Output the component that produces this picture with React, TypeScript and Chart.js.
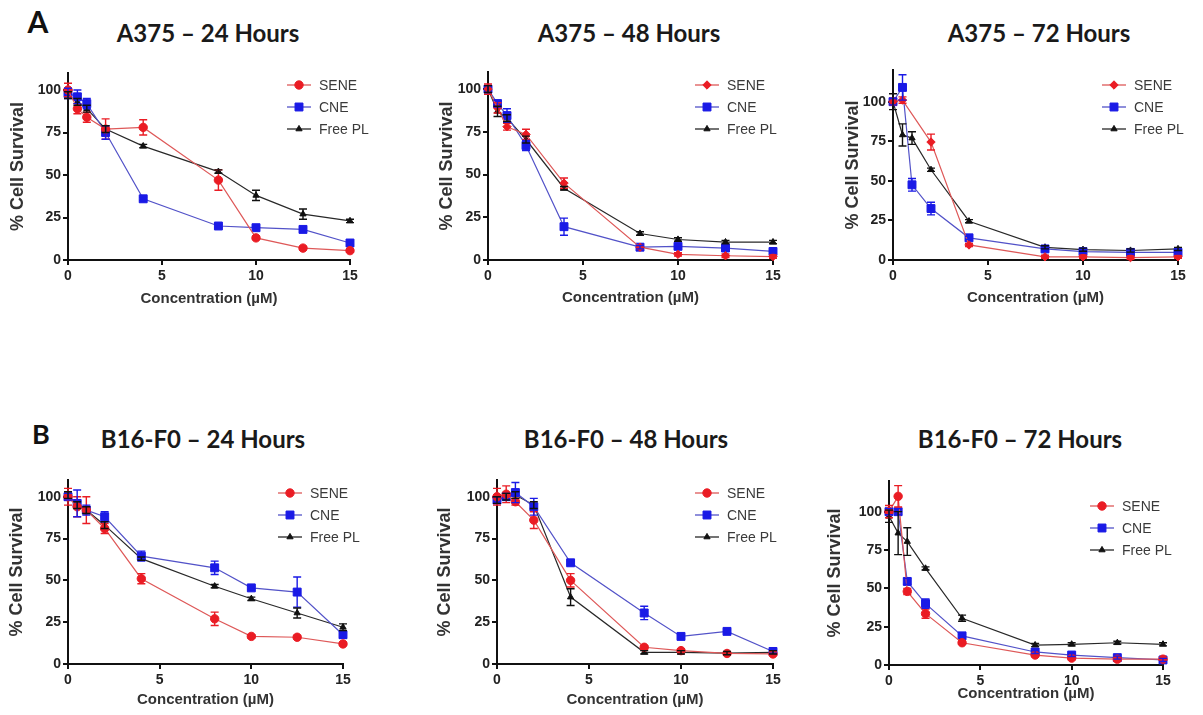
import React, { useEffect, useRef } from 'react';
import { Chart, registerables } from 'chart.js';

Chart.register(...registerables);

// ---------- data ----------
const CONC = [0, 0.5, 1, 2, 4, 8, 10, 12.5, 15];
const X_TICKS = [0, 5, 10, 15];
const Y_TICKS = [0, 25, 50, 75, 100];
const SERIES_NAMES = ['SENE', 'CNE', 'Free PL'];

// A375 – 24 Hours
const A24_SENE = [100, 89, 84, 77, 78, 47, 13, 7, 5.5];
const A24_SENE_ERR = [4, 3, 3, 6, 4.5, 6, 1, 1, 1];
const A24_CNE = [98, 96, 92, 75, 36, 20, 19, 18, 10];
const A24_CNE_ERR = [3, 4, 3, 4, 1, 1, 1, 1, 1];
const A24_FREE = [97, 93, 89, 77, 67, 52, 38, 27, 23];
const A24_FREE_ERR = [2, 2, 2, 2, 1, 1, 3, 3, 1];

// A375 – 48 Hours
const A48_SENE = [100, 89, 78, 73.5, 45, 7.5, 3.3, 2.5, 2];
const A48_SENE_ERR = [3, 3, 2, 3, 3, 1, 1, 1, 1];
const A48_CNE = [100, 91.5, 84.5, 67, 19.5, 7.5, 8, 7, 5];
const A48_CNE_ERR = [2, 2, 4, 3, 5, 1, 1, 1, 1];
const A48_FREE = [100, 87, 83, 70.5, 42, 15.5, 12, 10.5, 10.5];
const A48_FREE_ERR = [2, 3, 2, 2, 1, 1, 1, 1, 1];

// A375 – 72 Hours
const A72_SENE = [100, 101, null, 74.5, 9.5, 2, 2, 1.5, 2];
const A72_SENE_ERR = [2, 2, 0, 5, 1, 1, 1, 1, 1];
const A72_CNE = [100, 109, 47.5, 32.5, 14, 7, 5.3, 4.8, 4.8];
const A72_CNE_ERR = [2, 8, 4, 4, 1, 1, 1, 1, 1];
const A72_FREE = [100, 79, 77, 57, 24.5, 8, 6.5, 6, 7];
const A72_FREE_ERR = [5, 7, 4, 1, 1, 1, 1, 1, 1];

// B16-F0 – 24 Hours
const B24_SENE = [100, 94, 92, 81, 51, 27, 16.5, 16, 12];
const B24_SENE_ERR = [5, 6, 8, 3, 3, 4, 1, 1, 1];
const B24_CNE = [100, 96, 92, 88, 64.5, 57.5, 45.5, 43, 17.5];
const B24_CNE_ERR = [2, 8, 3, 3, 3, 4, 1, 9, 2];
const B24_FREE = [101, 95, 92, 83, 63, 46.5, 39, 30.5, 22];
const B24_FREE_ERR = [2, 2, 2, 2, 1, 1, 1, 3, 2];

// B16-F0 – 48 Hours
const B48_SENE = [100, 101.5, 97, 86, 50, 10, 8, 6.3, 6];
const B48_SENE_ERR = [5, 5, 2, 5, 4, 1, 1, 1, 1];
const B48_CNE = [98, 100, 102.5, 94, 60.5, 30.5, 16.5, 19.5, 7.5];
const B48_CNE_ERR = [2, 2, 6, 5, 1, 4, 1, 1, 1];
const B48_FREE = [98, 100, 101, 95, 40, 7, 7, 6.5, 7];
const B48_FREE_ERR = [2, 2, 2, 2, 5, 1, 1, 1, 1];

// B16-F0 – 72 Hours
const B72_SENE = [100, 110, 48, 33.5, 14.5, 6.5, 4.5, 3.8, 3.8];
const B72_SENE_ERR = [4, 7, 2, 3, 1, 1, 1, 1, 1];
const B72_CNE = [100, 100, 54.5, 40, 19, 8.5, 6.5, 4.8, 3.3];
const B72_CNE_ERR = [2, 2, 2, 3, 1, 1, 1, 1, 1];
const B72_FREE = [97, 86, 80.5, 63, 30.5, 13, 13.5, 14.5, 13.5];
const B72_FREE_ERR = [4, 14, 9, 1, 2, 1, 1, 1, 1];

// ---------- styles ----------
const POINT_COLORS = ['#ea1c24', '#1a1ae6', '#111111'];
const LINE_COLORS = ['rgb(222,88,88)', 'rgb(82,82,200)', 'rgb(40,40,40)'];
const POINT_RADII = [4.2, 5.6, 3.6];
const FONT = "'Liberation Sans', Arial, Helvetica, sans-serif";

type Area = { l: number; t: number; r: number; b: number };
type PanelCfg = {
  title: string;
  titleX: number;
  titleY: number;
  area: Area;
  yMax: number;
  seneStyle: string;
  series: (number | null)[][];
  errors: number[][];
  legend: { dx: number; dy: number };
  yTitleOff: number; // distance from chart left to y title center
  xTitleOff: number; // distance from chart bottom to x title center
};

const PANELS: PanelCfg[] = [
  {
    title: 'A375 – 24 Hours', titleX: 208, titleY: 33,
    area: { l: 68, t: 73, r: 350, b: 260 }, yMax: 110, seneStyle: 'circle',
    series: [A24_SENE, A24_CNE, A24_FREE], errors: [A24_SENE_ERR, A24_CNE_ERR, A24_FREE_ERR],
    legend: { dx: 219, dy: 12 }, yTitleOff: 50, xTitleOff: 39,
  },
  {
    title: 'A375 – 48 Hours', titleX: 629, titleY: 33,
    area: { l: 488, t: 72, r: 773, b: 260 }, yMax: 110, seneStyle: 'rectRot',
    series: [A48_SENE, A48_CNE, A48_FREE], errors: [A48_SENE_ERR, A48_CNE_ERR, A48_FREE_ERR],
    legend: { dx: 207, dy: 13 }, yTitleOff: 41, xTitleOff: 38,
  },
  {
    title: 'A375 – 72 Hours', titleX: 1039, titleY: 33,
    area: { l: 893, t: 70, r: 1178, b: 260 }, yMax: 120, seneStyle: 'rectRot',
    series: [A72_SENE, A72_CNE, A72_FREE], errors: [A72_SENE_ERR, A72_CNE_ERR, A72_FREE_ERR],
    legend: { dx: 209, dy: 15 }, yTitleOff: 40, xTitleOff: 38,
  },
  {
    title: 'B16-F0 – 24 Hours', titleX: 203, titleY: 439,
    area: { l: 68, t: 480, r: 343, b: 664 }, yMax: 110, seneStyle: 'circle',
    series: [B24_SENE, B24_CNE, B24_FREE], errors: [B24_SENE_ERR, B24_CNE_ERR, B24_FREE_ERR],
    legend: { dx: 210, dy: 13 }, yTitleOff: 51, xTitleOff: 36,
  },
  {
    title: 'B16-F0 – 48 Hours', titleX: 626, titleY: 439,
    area: { l: 497, t: 480, r: 773, b: 664 }, yMax: 110, seneStyle: 'circle',
    series: [B48_SENE, B48_CNE, B48_FREE], errors: [B48_SENE_ERR, B48_CNE_ERR, B48_FREE_ERR],
    legend: { dx: 198, dy: 13 }, yTitleOff: 52, xTitleOff: 36,
  },
  {
    title: 'B16-F0 – 72 Hours', titleX: 1020, titleY: 439,
    area: { l: 889, t: 481, r: 1163, b: 665 }, yMax: 120, seneStyle: 'circle',
    series: [B72_SENE, B72_CNE, B72_FREE], errors: [B72_SENE_ERR, B72_CNE_ERR, B72_FREE_ERR],
    legend: { dx: 201, dy: 25 }, yTitleOff: 54, xTitleOff: 29,
  },
];

const Y_AXIS_W = 68;
const X_AXIS_H = 52;
const PAD_TOP = 20;
const PAD_RIGHT = 25;
const Y_TITLE_SIZE = 18;
const X_TITLE_SIZE = 15;

function drawMarker(ctx: CanvasRenderingContext2D, style: string, x: number, y: number, r: number, color: string) {
  ctx.save();
  ctx.fillStyle = color;
  ctx.strokeStyle = color;
  ctx.lineWidth = 1;
  ctx.beginPath();
  if (style === 'circle') {
    ctx.arc(x, y, r, 0, Math.PI * 2);
  } else if (style === 'rect') {
    const s = Math.SQRT1_2 * r;
    ctx.rect(x - s, y - s, 2 * s, 2 * s);
  } else if (style === 'rectRot') {
    ctx.moveTo(x - r, y);
    ctx.lineTo(x, y - r);
    ctx.lineTo(x + r, y);
    ctx.lineTo(x, y + r);
    ctx.closePath();
  } else {
    ctx.moveTo(x, y - r);
    ctx.lineTo(x + Math.sin((2 * Math.PI) / 3) * r, y - Math.cos((2 * Math.PI) / 3) * r);
    ctx.lineTo(x + Math.sin((4 * Math.PI) / 3) * r, y - Math.cos((4 * Math.PI) / 3) * r);
    ctx.closePath();
  }
  ctx.fill();
  ctx.stroke();
  ctx.restore();
}

const errorBarPlugin = {
  id: 'errorBars',
  afterDatasetsDraw(chart: any) {
    const { ctx } = chart;
    const yScale = chart.scales.y;
    chart.data.datasets.forEach((ds: any, di: number) => {
      const meta = chart.getDatasetMeta(di);
      ctx.save();
      ctx.strokeStyle = ds.pointBackgroundColor;
      ctx.lineWidth = 1.4;
      meta.data.forEach((pt: any, i: number) => {
        const raw = ds.data[i];
        const e = ds.errors[raw.idx];
        if (raw.y == null || !e) return;
        const x = pt.x;
        const yTop = yScale.getPixelForValue(raw.y + e);
        const yBot = yScale.getPixelForValue(raw.y - e);
        ctx.beginPath();
        ctx.moveTo(x, yTop);
        ctx.lineTo(x, yBot);
        ctx.moveTo(x - 4, yTop);
        ctx.lineTo(x + 4, yTop);
        ctx.moveTo(x - 4, yBot);
        ctx.lineTo(x + 4, yBot);
        ctx.stroke();
      });
      ctx.restore();
    });
  },
};

const insideLegendPlugin = {
  id: 'insideLegend',
  afterDraw(chart: any, _args: any, opts: any) {
    const { ctx, chartArea } = chart;
    const x0 = chartArea.left + opts.dx;
    chart.data.datasets.forEach((ds: any, i: number) => {
      const y = chartArea.top + opts.dy + i * opts.gap;
      ctx.save();
      ctx.strokeStyle = ds.borderColor;
      ctx.lineWidth = 1.3;
      ctx.beginPath();
      ctx.moveTo(x0, y);
      ctx.lineTo(x0 + 24, y);
      ctx.stroke();
      drawMarker(ctx, ds.pointStyle, x0 + 12, y, ds.pointRadius, ds.pointBackgroundColor);
      ctx.fillStyle = '#3a3a3a';
      ctx.font = `14px ${FONT}`;
      ctx.textBaseline = 'middle';
      ctx.textAlign = 'left';
      ctx.fillText(ds.label, x0 + 32, y + 1);
      ctx.restore();
    });
  },
};

function Panel({ cfg }: { cfg: PanelCfg }) {
  const ref = useRef<HTMLCanvasElement | null>(null);
  const { area } = cfg;
  const left = area.l - Y_AXIS_W;
  const top = area.t - PAD_TOP;
  const width = area.r - area.l + Y_AXIS_W + PAD_RIGHT;
  const height = area.b - area.t + PAD_TOP + X_AXIS_H;

  useEffect(() => {
    if (!ref.current) return;
    const styles = [cfg.seneStyle, 'rect', 'triangle'];
    const datasets = SERIES_NAMES.map((name, si) => ({
      label: name,
      data: CONC.map((x, i) => ({ x, y: cfg.series[si][i], idx: i })).filter((p) => p.y != null),
      errors: cfg.errors[si],
      borderColor: LINE_COLORS[si],
      borderWidth: 1.2,
      pointStyle: styles[si],
      pointRadius: POINT_RADII[si],
      pointHoverRadius: POINT_RADII[si],
      pointBackgroundColor: POINT_COLORS[si],
      pointBorderColor: POINT_COLORS[si],
      pointBorderWidth: 1,
      tension: 0,
      fill: false,
      clip: false,
      spanGaps: true,
    }));

    const yTitleLH = Y_TITLE_SIZE * 1.2;
    const xTitleLH = X_TITLE_SIZE * 1.2;

    const chart = new Chart(ref.current, {
      type: 'line',
      data: { datasets } as any,
      options: {
        animation: false,
        responsive: false,
        devicePixelRatio: 1,
        parsing: { xAxisKey: 'x', yAxisKey: 'y' } as any,
        layout: { padding: { top: PAD_TOP, right: PAD_RIGHT, left: 0, bottom: 0 } },
        plugins: {
          legend: { display: false },
          tooltip: { enabled: false },
          insideLegend: { dx: cfg.legend.dx, dy: cfg.legend.dy, gap: 22 },
        } as any,
        scales: {
          x: {
            type: 'linear',
            min: 0,
            max: 15,
            afterBuildTicks: (s: any) => {
              s.ticks = X_TICKS.map((v) => ({ value: v }));
            },
            afterFit: (s: any) => {
              s.height = X_AXIS_H;
            },
            grid: { display: true, drawOnChartArea: false, drawTicks: true, tickLength: 5, lineWidth: 2, color: '#111' },
            border: { display: true, width: 2, color: '#111' },
            ticks: {
              padding: 3,
              color: '#222',
              font: { family: FONT, size: 14, weight: 'bold' },
              maxRotation: 0,
            },
            title: {
              display: true,
              text: 'Concentration (µM)',
              color: '#333',
              font: { family: FONT, size: X_TITLE_SIZE, weight: 'bold' },
              padding: { top: 0, bottom: X_AXIS_H - cfg.xTitleOff - xTitleLH / 2 },
            },
          },
          y: {
            type: 'linear',
            min: 0,
            max: cfg.yMax,
            afterBuildTicks: (s: any) => {
              s.ticks = Y_TICKS.map((v) => ({ value: v }));
            },
            afterFit: (s: any) => {
              s.width = Y_AXIS_W;
            },
            grid: { display: true, drawOnChartArea: false, drawTicks: true, tickLength: 5, lineWidth: 2, color: '#111' },
            border: { display: true, width: 2, color: '#111' },
            ticks: {
              padding: 2,
              color: '#222',
              font: { family: FONT, size: 14, weight: 'bold' },
            },
            title: {
              display: true,
              text: '% Cell Survival',
              color: '#333',
              font: { family: FONT, size: Y_TITLE_SIZE, weight: 'bold' },
              padding: { top: Y_AXIS_W - cfg.yTitleOff - yTitleLH / 2, bottom: 0 },
            },
          },
        },
      } as any,
      plugins: [errorBarPlugin, insideLegendPlugin] as any,
    });
    return () => chart.destroy();
  }, [cfg]);

  return (
    <>
      <div
        style={{
          position: 'absolute',
          left: cfg.titleX,
          top: cfg.titleY,
          transform: 'translate(-50%, -50%)',
          fontFamily: "Lato, 'Open Sans', sans-serif",
          fontWeight: 700,
          fontSize: 24,
          lineHeight: '28px',
          whiteSpace: 'nowrap',
          color: '#1a1a1a',
        }}
      >
        {cfg.title}
      </div>
      <canvas
        ref={ref}
        width={width}
        height={height}
        style={{ position: 'absolute', left, top, width, height }}
      />
    </>
  );
}

export default function App() {
  return (
    <div
      style={{
        position: 'absolute',
        left: 0,
        top: 0,
        width: 1203,
        height: 715,
        background: '#ffffff',
        overflow: 'hidden',
      }}
    >
      <div
        style={{
          position: 'absolute', left: 38, top: 21, transform: 'translate(-50%, -50%)',
          fontFamily: 'Lato, sans-serif', fontWeight: 700, fontSize: 30, lineHeight: '34px', color: '#111',
        }}
      >
        A
      </div>
      <div
        style={{
          position: 'absolute', left: 41, top: 434, transform: 'translate(-50%, -50%)',
          fontFamily: 'Lato, sans-serif', fontWeight: 700, fontSize: 27, lineHeight: '32px', color: '#111',
        }}
      >
        B
      </div>
      {PANELS.map((p) => (
        <Panel key={p.title} cfg={p} />
      ))}
    </div>
  );
}
